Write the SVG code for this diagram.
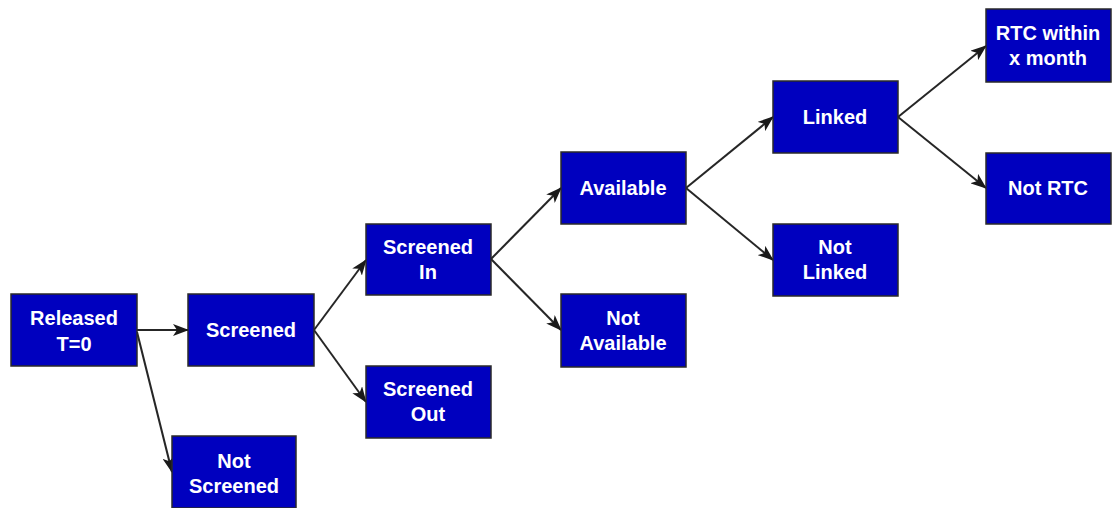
<svg xmlns="http://www.w3.org/2000/svg" width="1117" height="508" viewBox="0 0 1117 508">
<style>
.box{fill:#0000BF;stroke:#2a2a2a;stroke-width:1.5}
.t{fill:#ffffff;font-family:"Liberation Sans",Arial,sans-serif;font-weight:bold;font-size:20px;text-anchor:middle}
.c{stroke:#262626;stroke-width:2;fill:none;marker-end:url(#ah)}
</style>
<defs>
<marker id="ah" markerWidth="16" markerHeight="12" refX="15" refY="6" orient="auto" markerUnits="userSpaceOnUse">
<path d="M0,0 L16,6 L0,12 L4,6 Z" fill="#1a1a1a"/>
</marker>
</defs>
<rect width="1117" height="508" fill="#ffffff"/>
<g id="connectors">
<line class="c" x1="137" y1="330" x2="188" y2="330"/>
<line class="c" x1="137" y1="332" x2="172" y2="472"/>
<line class="c" x1="314" y1="330" x2="366" y2="260"/>
<line class="c" x1="314" y1="330" x2="366" y2="402"/>
<line class="c" x1="491" y1="259" x2="561" y2="188"/>
<line class="c" x1="491" y1="259" x2="561" y2="330"/>
<line class="c" x1="686" y1="188" x2="773" y2="117"/>
<line class="c" x1="686" y1="188" x2="773" y2="260"/>
<line class="c" x1="898" y1="117" x2="986" y2="46"/>
<line class="c" x1="898" y1="117" x2="986" y2="188"/>
</g>
<g id="released"><rect class="box" x="11" y="294" width="126" height="72"/><text class="t" x="74" y="325">Released</text><text class="t" x="74" y="351">T=0</text></g>
<g id="screened"><rect class="box" x="188" y="294" width="126" height="72"/><text class="t" x="251" y="337">Screened</text></g>
<g id="not-screened"><rect class="box" x="172" y="436" width="124" height="72"/><text class="t" x="234" y="468">Not</text><text class="t" x="234" y="493">Screened</text></g>
<g id="screened-in"><rect class="box" x="366" y="224" width="125" height="71"/><text class="t" x="428" y="254">Screened</text><text class="t" x="428" y="279">In</text></g>
<g id="screened-out"><rect class="box" x="366" y="366" width="125" height="72"/><text class="t" x="428" y="396">Screened</text><text class="t" x="428" y="421">Out</text></g>
<g id="available"><rect class="box" x="561" y="152" width="125" height="72"/><text class="t" x="623" y="195">Available</text></g>
<g id="not-available"><rect class="box" x="561" y="294" width="125" height="73"/><text class="t" x="623" y="325">Not</text><text class="t" x="623" y="350">Available</text></g>
<g id="linked"><rect class="box" x="773" y="81" width="125" height="72"/><text class="t" x="835" y="124">Linked</text></g>
<g id="not-linked"><rect class="box" x="773" y="224" width="125" height="72"/><text class="t" x="835" y="254">Not</text><text class="t" x="835" y="279">Linked</text></g>
<g id="rtc"><rect class="box" x="986" y="9" width="125" height="73"/><text class="t" x="1048" y="40">RTC within</text><text class="t" x="1048" y="65">x month</text></g>
<g id="not-rtc"><rect class="box" x="986" y="153" width="125" height="71"/><text class="t" x="1048" y="195">Not RTC</text></g>
</svg>
